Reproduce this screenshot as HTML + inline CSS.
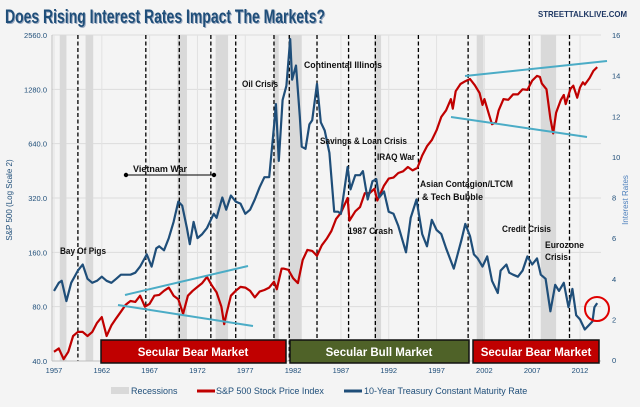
<!DOCTYPE html>
<html><head><meta charset="utf-8"><style>
body{margin:0;background:#f4f4f4;width:640px;height:407px;overflow:hidden;font-family:"Liberation Sans",sans-serif}
svg{display:block}
</style></head><body>
<svg id="c" width="640" height="407" viewBox="0 0 640 407" xmlns="http://www.w3.org/2000/svg">
<rect x="0" y="0" width="640" height="407" fill="#f4f4f4"/>
<text x="6" y="24" textLength="320" lengthAdjust="spacingAndGlyphs" font-family="Liberation Sans, sans-serif" font-size="19" font-weight="bold" fill="#9aa9c0">Does Rising Interest Rates Impact The Markets?</text>
<text x="5" y="23" textLength="320" lengthAdjust="spacingAndGlyphs" font-family="Liberation Sans, sans-serif" font-size="19" font-weight="bold" fill="#1f4e79">Does Rising Interest Rates Impact The Markets?</text>
<text x="538" y="17" textLength="89" lengthAdjust="spacingAndGlyphs" font-family="Liberation Sans, sans-serif" font-size="8.5" font-weight="bold" fill="#1f3864">STREETTALKLIVE.COM</text>
<g id="grid"></g><g id="rec"></g><g id="dash"></g><g id="marks"></g><g id="axes"></g>
</svg>
<script>
const leftTicks=[40,80,160,320,640,1280,2560];
const rightTicks=[0,2,4,6,8,10,12,14,16];
const yearTicks=[1957,1962,1967,1972,1977,1982,1987,1992,1997,2002,2007,2012];
const recessions=[[1957.6,1958.3],[1960.3,1961.1],[1969.9,1970.9],[1973.9,1975.2],[1980.0,1980.5],[1981.5,1982.9],[1990.5,1991.2],[2001.2,2001.9],[2007.9,2009.5]];
const eventYears=[1959.5,1966.6,1970.1,1973.4,1976.0,1980.0,1981.6,1984.5,1987.8,1990.6,1995.1,2000.3,2006.7,2010.9];
const spYears=[1957.0,1957.5,1958.0,1958.5,1959.0,1959.5,1960.0,1960.5,1961.0,1961.5,1962.0,1962.5,1963.0,1963.5,1964.0,1964.5,1965.0,1965.5,1966.0,1966.5,1967.0,1967.5,1968.0,1968.5,1969.0,1969.5,1970.0,1970.5,1971.0,1971.5,1972.0,1972.5,1973.0,1973.5,1974.0,1974.5,1974.8,1975.0,1975.5,1976.0,1976.5,1977.0,1977.5,1978.0,1978.5,1979.0,1979.5,1980.0,1980.3,1980.8,1981.0,1981.5,1982.0,1982.5,1983.0,1983.5,1984.0,1984.5,1985.0,1985.5,1986.0,1986.5,1987.0,1987.7,1987.9,1988.5,1989.0,1989.5,1990.0,1990.5,1990.8,1991.5,1992.0,1992.5,1993.0,1993.5,1994.0,1994.5,1995.0,1995.5,1996.0,1996.5,1997.0,1997.5,1998.0,1998.5,1998.7,1999.0,1999.5,2000.0,2000.5,2001.0,2001.5,2001.8,2002.0,2002.5,2002.8,2003.2,2003.5,2004.0,2004.5,2005.0,2005.5,2006.0,2006.5,2007.0,2007.5,2007.8,2008.0,2008.5,2008.9,2009.2,2009.5,2010.0,2010.3,2010.5,2011.0,2011.3,2011.7,2012.0,2012.3,2012.5,2013.0,2013.4,2013.8];
const spValues=[45,47,41,45,55,58,58,55,58,65,70,55,63,69,75,82,86,85,92,80,83,92,93,98,102,92,88,73,92,98,103,108,117,105,96,80,64,72,92,98,103,102,98,90,97,99,102,110,100,130,130,128,115,108,145,165,163,153,175,190,210,245,265,320,240,270,285,340,340,360,310,375,410,415,440,450,475,455,470,550,620,670,760,900,980,1130,1000,1250,1370,1420,1460,1350,1220,1050,1130,920,820,840,980,1130,1120,1200,1200,1280,1270,1430,1520,1500,1380,1280,880,730,950,1120,1190,1060,1290,1340,1150,1310,1400,1360,1480,1620,1700];
const rateYears=[1957.0,1957.5,1957.8,1958.3,1958.8,1959.5,1960.0,1960.5,1961.0,1961.5,1962.0,1962.5,1963.0,1963.5,1964.0,1964.5,1965.0,1965.5,1966.0,1966.7,1967.2,1967.7,1968.0,1968.5,1969.0,1969.5,1970.0,1970.4,1970.9,1971.2,1971.6,1972.0,1972.5,1973.0,1973.7,1974.0,1974.6,1975.0,1975.5,1976.0,1976.5,1977.0,1977.5,1978.0,1978.5,1979.0,1979.5,1980.0,1980.2,1980.5,1980.9,1981.3,1981.7,1981.9,1982.3,1982.7,1982.9,1983.3,1983.7,1984.0,1984.5,1984.9,1985.3,1985.8,1986.3,1986.7,1987.0,1987.7,1988.0,1988.5,1989.0,1989.3,1989.8,1990.3,1990.7,1991.0,1991.5,1992.0,1992.5,1993.0,1993.8,1994.3,1994.9,1995.5,1996.0,1996.5,1997.0,1997.5,1998.0,1998.8,1999.2,1999.6,2000.0,2000.5,2000.9,2001.3,2001.8,2002.3,2002.8,2003.4,2003.7,2004.3,2004.6,2005.0,2005.5,2006.0,2006.5,2007.0,2007.5,2007.9,2008.4,2008.9,2009.4,2009.8,2010.3,2010.8,2011.2,2011.6,2012.0,2012.5,2012.9,2013.3,2013.5,2013.8];
const rateValues=[3.4,3.8,3.9,2.9,3.8,4.4,4.7,4.0,3.8,3.9,4.1,3.9,3.8,4.0,4.2,4.2,4.2,4.3,4.6,5.2,4.6,5.5,5.6,5.4,6.0,6.8,7.8,7.6,6.5,5.7,6.8,6.0,6.2,6.5,7.2,7.0,8.0,7.4,8.1,7.8,7.7,7.2,7.4,7.9,8.5,9.0,9.0,11.5,12.6,9.8,12.8,13.5,15.8,13.8,14.5,12.0,10.5,10.4,11.6,11.8,13.6,11.7,11.3,10.2,7.3,7.3,7.2,9.5,8.4,9.1,9.1,9.3,7.9,8.8,8.9,8.0,8.3,7.3,7.2,6.6,5.3,7.0,7.9,6.2,5.6,6.9,6.4,6.2,5.5,4.5,5.2,5.9,6.7,6.1,5.2,5.0,4.6,5.1,3.9,3.3,4.4,4.7,4.3,4.2,4.1,4.4,5.1,4.7,5.0,4.2,4.0,2.4,3.7,3.4,3.8,2.6,3.5,2.2,2.0,1.5,1.7,1.9,2.6,2.8];

const NS="http://www.w3.org/2000/svg";
const PL=52,PR=601,PT=35,PB=361;
const xS=y=>54+(y-1957)*9.564;
const yL=v=>361-Math.log2(v/40)*(326/6);
const yR=v=>360-v*(325/16);
function el(t,a,p){const e=document.createElementNS(NS,t);for(const k in a)e.setAttribute(k,a[k]);document.getElementById(p).appendChild(e);return e;}
leftTicks.forEach(v=>{const e=el('line',{x1:PL,x2:PR,y1:yL(v),y2:yL(v),stroke:'#dcdcdc','stroke-width':1},'grid');

});
yearTicks.forEach(y=>{const e=el('line',{x1:xS(y),x2:xS(y),y1:PT,y2:PB,stroke:'#e2e2e2','stroke-width':1},'grid');

});
recessions.forEach((r,i)=>{const e=el('rect',{x:xS(r[0]),y:PT,width:xS(r[1])-xS(r[0]),height:PB-PT,fill:'#d9d9d9'},'rec');

});
eventYears.forEach(y=>{const e=el('line',{x1:xS(y),x2:xS(y),y1:PT,y2:PB,stroke:'#000','stroke-width':1.3,'stroke-dasharray':'4,2.5'},'dash');

});
let d='';spYears.forEach((y,i)=>{d+=(i?'L':'M')+xS(y).toFixed(1)+' '+yL(spValues[i]).toFixed(1);});
let sp=el('path',{d:d,fill:'none',stroke:'#c00000','stroke-width':2.2,'stroke-linejoin':'round'},'marks');


d='';rateYears.forEach((y,i)=>{d+=(i?'L':'M')+xS(y).toFixed(1)+' '+yR(rateValues[i]).toFixed(1);});
let rt=el('path',{d:d,fill:'none',stroke:'#1f4e79','stroke-width':2.2,'stroke-linejoin':'round'},'marks');


leftTicks.forEach(v=>{const t=el('text',{x:47,y:yL(v)+3,'text-anchor':'end','font-size':7.5,fill:'#1f4e79','font-family':'Liberation Sans, sans-serif'},'axes');t.textContent=v.toFixed(1);

});
rightTicks.forEach(v=>{const t=el('text',{x:612,y:yR(v)+3,'font-size':7.5,fill:'#1f4e79','font-family':'Liberation Sans, sans-serif'},'axes');t.textContent=v;

});
yearTicks.forEach(y=>{const t=el('text',{x:xS(y),y:373,'text-anchor':'middle','font-size':7.5,fill:'#1f4e79','font-family':'Liberation Sans, sans-serif'},'axes');t.textContent=y;

});
</script>
<svg style="position:absolute;left:0;top:0" width="640" height="407" xmlns="http://www.w3.org/2000/svg" font-family="Liberation Sans, sans-serif">
<line x1="52" y1="35" x2="52" y2="361" stroke="#bfbfbf"/>
<line x1="52" y1="361" x2="601" y2="361" stroke="#bfbfbf"/>
<text transform="translate(12,200) rotate(-90)" text-anchor="middle" font-size="8" fill="#1f4e79">S&amp;P 500 (Log Scale 2)</text>
<text transform="translate(628,200) rotate(-90)" text-anchor="middle" font-size="8" fill="#4f81bd">Interest Rates</text>
<g stroke="#4bacc6" stroke-width="2">
<line x1="125" y1="295" x2="248" y2="266"/><line x1="118" y1="305" x2="253" y2="326"/>
<line x1="465" y1="76" x2="607" y2="61"/><line x1="451" y1="117" x2="587" y2="137"/>
</g>
<circle cx="597" cy="309" r="12" fill="none" stroke="#e00000" stroke-width="2"/>
<g font-size="9" font-weight="bold" fill="#111">
<text x="242" y="87" textLength="36" lengthAdjust="spacingAndGlyphs">Oil Crisis</text>
<text x="304" y="68" textLength="78" lengthAdjust="spacingAndGlyphs">Continental Illinois</text>
<text x="133" y="172" textLength="54" lengthAdjust="spacingAndGlyphs">Vietnam War</text>
<text x="320" y="144" textLength="87" lengthAdjust="spacingAndGlyphs">Savings &amp; Loan Crisis</text>
<text x="377" y="160" textLength="38" lengthAdjust="spacingAndGlyphs">IRAQ War</text>
<text x="420" y="187" textLength="93" lengthAdjust="spacingAndGlyphs">Asian Contagion/LTCM</text>
<text x="422" y="200" textLength="61" lengthAdjust="spacingAndGlyphs">&amp; Tech Bubble</text>
<text x="60" y="254" textLength="46" lengthAdjust="spacingAndGlyphs">Bay Of Pigs</text>
<text x="348" y="234" textLength="45" lengthAdjust="spacingAndGlyphs">1987 Crash</text>
<text x="502" y="232" textLength="49" lengthAdjust="spacingAndGlyphs">Credit Crisis</text>
<text x="545" y="248" textLength="39" lengthAdjust="spacingAndGlyphs">Eurozone</text>
<text x="545" y="260" textLength="23" lengthAdjust="spacingAndGlyphs">Crisis</text>
</g>
<g><line x1="126" y1="175" x2="214" y2="175" stroke="#000"/><circle cx="126" cy="175" r="2.2"/><circle cx="214" cy="175" r="2.2"/></g>
<g font-size="11.5" font-weight="bold" fill="#fff" text-anchor="middle">
<rect x="101" y="340" width="185" height="23" fill="#c00000" stroke="#111" stroke-width="1.5"/>
<text x="193" y="356">Secular Bear Market</text>
<rect x="290" y="340" width="179" height="23" fill="#4f6228" stroke="#111" stroke-width="1.5"/>
<text x="379" y="356">Secular Bull Market</text>
<rect x="473" y="340" width="126" height="23" fill="#c00000" stroke="#111" stroke-width="1.5"/>
<text x="536" y="356">Secular Bear Market</text>
</g>
<g font-size="9" fill="#1f4e79">
<rect x="111" y="387" width="18" height="7" fill="#d9d9d9"/>
<text x="131" y="394">Recessions</text>
<line x1="197" y1="391" x2="215" y2="391" stroke="#c00000" stroke-width="3"/>
<text x="216" y="394">S&amp;P 500 Stock Price Index</text>
<line x1="344" y1="391" x2="362" y2="391" stroke="#1f4e79" stroke-width="3"/>
<text x="364" y="394">10-Year Treasury Constant Maturity Rate</text>
</g>
</svg>
</body></html>
